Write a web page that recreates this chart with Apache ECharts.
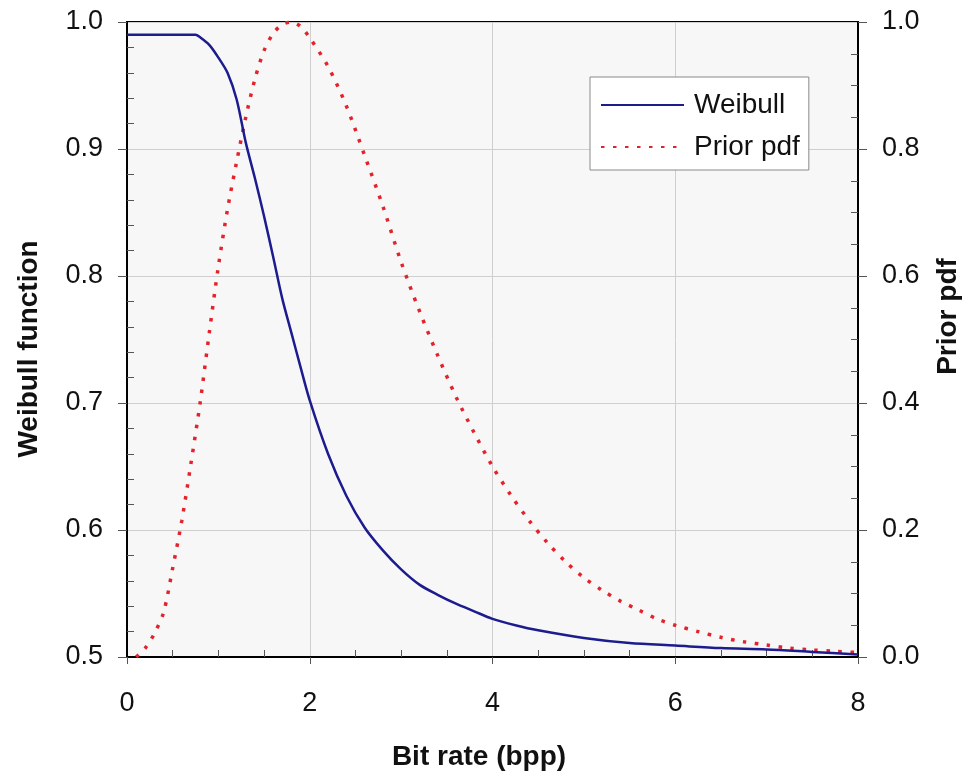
<!DOCTYPE html>
<html>
<head>
<meta charset="utf-8">
<script src="https://cdn.jsdelivr.net/npm/echarts@6/dist/echarts.min.js"></script>
<style>
html,body{margin:0;padding:0;background:#fff;}
#chart{width:972px;height:781px;}
</style>
</head>
<body>
<div id="chart"></div>
<script>
const weibullX = [0, 0.5, 0.75, 0.8, 0.9, 1.0, 1.1, 1.2, 1.3, 1.4, 1.5, 1.6, 1.7, 1.8, 1.9, 2.0, 2.2, 2.4, 2.6, 2.8, 3.0, 3.2, 3.4, 3.6, 3.8, 4.0, 4.25, 4.5, 5.0, 5.5, 6.0, 6.5, 7.0, 7.5, 8.0];
const weibullY = [0.99, 0.99, 0.99, 0.988, 0.982, 0.972, 0.96, 0.939, 0.905, 0.877, 0.847, 0.815, 0.782, 0.755, 0.728, 0.702, 0.66, 0.627, 0.602, 0.584, 0.569, 0.557, 0.549, 0.542, 0.536, 0.530, 0.525, 0.521, 0.515, 0.511, 0.509, 0.507, 0.506, 0.504, 0.502];

const priorX = [0.1, 0.2, 0.3, 0.4, 0.5, 0.6, 0.7, 0.8, 0.9, 1.0, 1.1, 1.2, 1.3, 1.4, 1.5, 1.6, 1.7, 1.8, 1.9, 2.0, 2.2, 2.4, 2.6, 2.8, 3.0, 3.2, 3.4, 3.6, 3.8, 4.0, 4.2, 4.4, 4.6, 4.8, 5.0, 5.2, 5.4, 5.6, 5.8, 6.0, 6.25, 6.5, 6.75, 7.0, 7.25, 7.5, 7.75, 8.0];
const priorY = [0.0, 0.014, 0.037, 0.07, 0.14, 0.215, 0.305, 0.40, 0.51, 0.615, 0.705, 0.78, 0.85, 0.91, 0.955, 0.982, 0.996, 1.0, 0.993, 0.975, 0.93, 0.868, 0.79, 0.71, 0.622, 0.545, 0.475, 0.41, 0.353, 0.30, 0.255, 0.215, 0.18, 0.15, 0.125, 0.105, 0.088, 0.074, 0.06, 0.05, 0.04, 0.031, 0.024, 0.019, 0.014, 0.011, 0.009, 0.007];

const seriesNames = ['Weibull', 'Prior pdf'];
const xAxisName = 'Bit rate (bpp)';
const leftAxisName = 'Weibull function';
const rightAxisName = 'Prior pdf';

const FONT = '"Liberation Sans", Arial, sans-serif';
const chart = echarts.init(document.getElementById('chart'), null, {renderer: 'canvas'});

const tickLabel = {color: '#111', fontSize: 27, fontFamily: FONT};
const nameStyle = {color: '#111', fontSize: 28, fontWeight: 'bold', fontFamily: FONT};

chart.setOption({
  animation: false,
  backgroundColor: '#ffffff',
  grid: {
    left: 127, right: 114, top: 22, bottom: 124,
    show: true, backgroundColor: '#f7f7f7', borderColor: '#000', borderWidth: 2
  },
  legend: {
    orient: 'vertical',
    left: 590, top: 77,
    padding: [14, 9, 9, 10],
    itemGap: 14,
    itemWidth: 83, itemHeight: 14,
    backgroundColor: '#ffffff',
    borderColor: '#8a8a8a', borderWidth: 1,
    itemStyle: {opacity: 0},
    textStyle: {color: '#111', fontSize: 28, fontFamily: FONT, padding: [0, 0, 0, 5]},
    data: seriesNames
  },
  xAxis: {
    type: 'value', min: 0, max: 8, interval: 2,
    name: xAxisName, nameLocation: 'middle', nameGap: 86,
    nameTextStyle: Object.assign({padding: [0, 27, 0, 0]}, nameStyle),
    axisLine: {show: true, onZero: false, lineStyle: {color: '#000', width: 2}},
    axisTick: {show: true, length: 7, lineStyle: {color: '#555', width: 1}},
    minorTick: {show: true, splitNumber: 4, length: -7, lineStyle: {color: '#555', width: 1}},
    axisLabel: Object.assign({margin: 33}, tickLabel),
    splitLine: {show: true, lineStyle: {color: '#cfcfcf', width: 1}}
  },
  yAxis: [
    {
      type: 'value', min: 0.5, max: 1.0, interval: 0.1, position: 'left',
      name: leftAxisName, nameLocation: 'middle', nameGap: 84, nameRotate: 90,
      nameTextStyle: Object.assign({padding: [0, 19, 0, 0]}, nameStyle),
      axisLine: {show: true, onZero: false, lineStyle: {color: '#000', width: 2}},
      axisTick: {show: true, length: 9, lineStyle: {color: '#555', width: 1}},
      minorTick: {show: true, splitNumber: 5, length: -7, lineStyle: {color: '#555', width: 1}},
      axisLabel: Object.assign({margin: 24, formatter: v => v.toFixed(1)}, tickLabel),
      splitLine: {show: true, lineStyle: {color: '#cfcfcf', width: 1}}
    },
    {
      type: 'value', min: 0, max: 1.0, interval: 0.2, position: 'right',
      name: rightAxisName, nameLocation: 'middle', nameGap: 76, nameRotate: 90,
      nameTextStyle: Object.assign({padding: [0, 0, 0, 46]}, nameStyle),
      axisLine: {show: true, onZero: false, lineStyle: {color: '#000', width: 2}},
      axisTick: {show: true, length: 9, lineStyle: {color: '#555', width: 1}},
      minorTick: {show: true, splitNumber: 4, length: -7, lineStyle: {color: '#555', width: 1}},
      axisLabel: Object.assign({margin: 24, formatter: v => v.toFixed(1)}, tickLabel),
      splitLine: {show: false}
    }
  ],
  series: [
    {
      name: seriesNames[0], type: 'line', yAxisIndex: 0,
      data: weibullX.map((x, i) => [x, weibullY[i]]),
      showSymbol: false, symbol: 'none', smooth: 0.3,
      lineStyle: {color: '#1c1c8f', width: 2.5},
      itemStyle: {color: '#1c1c8f'},
      z: 3
    },
    {
      name: seriesNames[1], type: 'line', yAxisIndex: 1,
      data: priorX.map((x, i) => [x, priorY[i]]),
      showSymbol: false, symbol: 'none', smooth: 0.3,
      lineStyle: {color: '#e3232b', width: 3.5, type: [3.5, 8.5]},
      itemStyle: {color: '#e3232b'},
      z: 2
    }
  ]
});
</script>
</body>
</html>
